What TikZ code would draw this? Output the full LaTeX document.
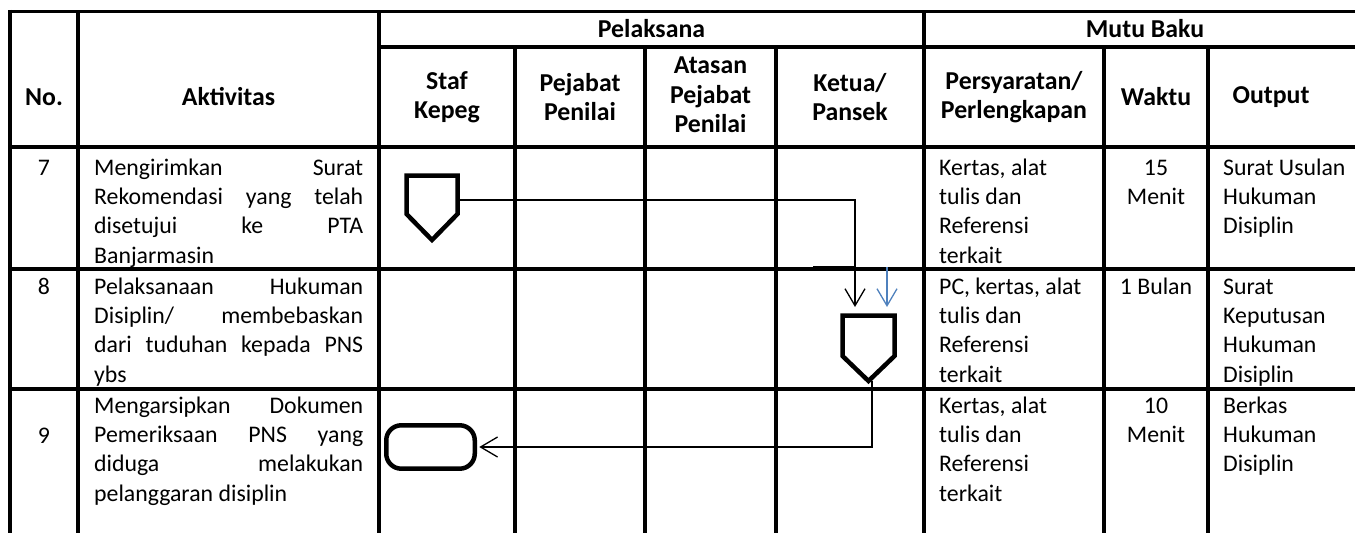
\documentclass[tikz,border=0pt]{standalone}
\usepackage{fontspec}
\setmainfont{Carlito}
\usetikzlibrary{arrows.meta,calc}
\definecolor{arrowblue}{RGB}{79,129,189}
\newcommand\jl[1]{\hbox to 269pt{#1}}
\newcommand\fst{\rule{0pt}{20pt}}
\tikzset{
  grid/.style={line width=3.3pt, black},
  hdr/.style={font=\bfseries\fontsize{25.8}{29.5}\selectfont, align=center, inner sep=0pt},
  body/.style={font=\fontsize{23.8}{29.3}\selectfont, align=left, inner sep=0pt, anchor=north west},
  bodyc/.style={font=\fontsize{23.8}{29.3}\selectfont, align=center, inner sep=0pt, anchor=north},
  shapeline/.style={line width=4.5pt, line join=miter, black},
  anchorbox/.style={draw=none, inner sep=0pt, outer sep=0pt},
  conn/.style={line width=1.3pt, -{Straight Barb[length=17pt,width=20pt]}},
}
\begin{document}
\begin{tikzpicture}[x=1pt,y=-1pt]
\useasboundingbox (0,0) rectangle (1355,533);
% table lines
\draw[grid] (8.3,11.5) -- (1355,11.5);
\draw[grid] (379,47) -- (1355,47);
\draw[grid] (8.3,147) -- (1355,147);
\draw[grid] (8.3,269) -- (1355,269);
\draw[grid] (8.3,389) -- (1355,389);
\draw[grid, line width=4pt] (10.3,9.9) -- (10.3,533);
\draw[grid] (78,11.5) -- (78,533);
\draw[grid] (379,11.5) -- (379,533);
\draw[grid] (515,47) -- (515,533);
\draw[grid] (645,47) -- (645,533);
\draw[grid] (776,47) -- (776,533);
\draw[grid] (924,11.5) -- (924,533);
\draw[grid] (1104,47) -- (1104,533);
\draw[grid] (1208,47) -- (1208,533);
% header
\node[hdr] (hno) at (44,97) {No.};
\node[hdr] (hakt) at (228.5,97) {Aktivitas};
\node[hdr] (hpel) at (651.5,29) {Pelaksana};
\node[hdr] (hstaf) at (447,97) {Staf\\Kepeg};
\node[hdr] (hpp) at (580,97) {Pejabat\\Penilai};
\node[hdr] (happ) at (710.5,95) {Atasan\\Pejabat\\Penilai};
\node[hdr] (hket) at (850,97) {Ketua/\\Pansek};
\node[hdr] (hmutu) at (1145,29) {Mutu Baku};
\node[hdr] (hpers) at (1014,97) {Persyaratan/\\Perlengkapan};
\node[hdr] (hwak) at (1156,97) {Waktu};
\node[hdr] (hout) at (1271,97) {Output};
% numbers
\node[bodyc] (n7) at (44,155) {\fst 7};
\node[bodyc] (n8) at (44,274) {\fst 8};
\node[bodyc] (n9) at (44,423) {\fst 9};
% activities
\node[body] (a7) at (94,155) {\jl{\fst Mengirimkan\hfill Surat}\\\jl{Rekomendasi\hfill yang\hfill telah}\\\jl{disetujui\hfill ke\hfill PTA}\\Banjarmasin};
\node[body] (a8) at (94,274) {\jl{\fst Pelaksanaan\hfill Hukuman}\\\jl{Disiplin/\hfill membebaskan}\\\jl{dari\hfill tuduhan\hfill kepada\hfill PNS}\\ybs};
\node[body] (a9) at (94,393) {\jl{\fst Mengarsipkan\hfill Dokumen}\\\jl{Pemeriksaan\hfill PNS\hfill yang}\\\jl{diduga\hfill melakukan}\\pelanggaran disiplin};
% requirements
\node[body] (r7) at (939,155) {\fst Kertas, alat\\tulis dan\\Referensi\\terkait};
\node[body] (r8) at (939,274) {\fst PC, kertas, alat\\tulis dan\\Referensi\\terkait};
\node[body] (r9) at (939,393) {\fst Kertas, alat\\tulis dan\\Referensi\\terkait};
% time
\node[bodyc] (w7) at (1156,155) {\fst 15\\Menit};
\node[bodyc] (w8) at (1156,274) {\fst 1 Bulan};
\node[bodyc] (w9) at (1156,393) {\fst 10\\Menit};
% output
\node[body] (o7) at (1223,155) {\fst Surat Usulan\\Hukuman\\Disiplin};
\node[body] (o8) at (1223,274) {\fst Surat\\Keputusan\\Hukuman\\Disiplin};
\node[body] (o9) at (1223,393) {\fst Berkas\\Hukuman\\Disiplin};
% flow shapes
\node[anchorbox, minimum width=51pt, minimum height=64.5pt] (p1) at (432,207.75) {};
\draw[shapeline] (p1.north west) -- (p1.north east) -- ($(p1.north east)+(0,38.5)$) -- (p1.south) -- ($(p1.north west)+(0,38.5)$) -- cycle;
\node[anchorbox, minimum width=52pt, minimum height=65.5pt] (p2) at (868.5,348.25) {};
\draw[shapeline] (p2.north west) -- (p2.north east) -- ($(p2.north east)+(0,40.5)$) -- (p2.south) -- ($(p2.north west)+(0,40.5)$) -- cycle;
\node[draw, shapeline, rounded corners=15pt, minimum width=88.5pt, minimum height=43.4pt, inner sep=0pt] (term) at (430.5,447) {};
% connectors
\draw[conn] ($(p1.north east)+(2.25,24.5)$) -| ($(p2.north)+(-13.5,-8.5)$);
\coordinate (sl) at (813,267);
\coordinate (sr) at (855,267);
\draw[line width=2pt] (sl) -- (sr);
\coordinate (bt) at (887,267);
\coordinate (bb) at (887,307);
\draw[conn, arrowblue] (bt) -- (bb);
\draw[conn] ($(p2.south)+(3.5,0)$) |- ($(term.east)+(2.3,0)$);
\end{tikzpicture}
\end{document}
